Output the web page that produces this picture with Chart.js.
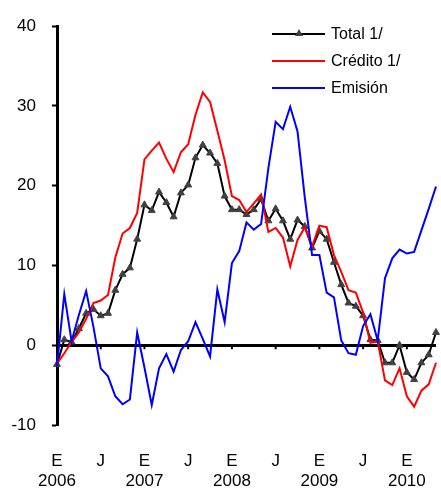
<!DOCTYPE html>
<html>
<head>
<meta charset="utf-8">
<script src="https://cdn.jsdelivr.net/npm/chart.js@4"></script>
<style>
    body { margin: 0; background: #fff; }
    #wrap { position: relative; width: 441px; height: 488px; }
    .legend { position: absolute; left: 272px; top: 22px; font: 16px "Liberation Sans", Arial, sans-serif; color: #000; }
    .legend .row { position: relative; height: 27px; line-height: 24px; padding-left: 59px; white-space: nowrap; }
    .legend .line { position: absolute; left: 0; top: 11px; width: 53px; height: 2px; }
    .legend .tri { position: absolute; left: 23px; top: 7px; width: 0; height: 0;
        border-left: 4px solid transparent; border-right: 4px solid transparent; border-bottom: 7px solid #404040; }
</style>
</head>
<body>
<div id="wrap">
    <canvas id="chart" width="441" height="488"></canvas>
    <div class="legend">
        <div class="row"><span class="line" style="background:#000"></span><span class="tri"></span>Total 1/</div>
        <div class="row"><span class="line" style="background:#ff0000"></span>Crédito 1/</div>
        <div class="row"><span class="line" style="background:#0000ff"></span>Emisión</div>
    </div>
</div>
<script>
// Months, Jan 2006 - May 2010
const months = [
    '2006-01', '2006-02', '2006-03', '2006-04', '2006-05', '2006-06', '2006-07', '2006-08', '2006-09', '2006-10', '2006-11', '2006-12',
    '2007-01', '2007-02', '2007-03', '2007-04', '2007-05', '2007-06', '2007-07', '2007-08', '2007-09', '2007-10', '2007-11', '2007-12',
    '2008-01', '2008-02', '2008-03', '2008-04', '2008-05', '2008-06', '2008-07', '2008-08', '2008-09', '2008-10', '2008-11', '2008-12',
    '2009-01', '2009-02', '2009-03', '2009-04', '2009-05', '2009-06', '2009-07', '2009-08', '2009-09', '2009-10', '2009-11', '2009-12',
    '2010-01', '2010-02', '2010-03', '2010-04', '2010-05'
];

// Series (% annual change)
const total = [
    -2.4, 0.7, 0.4, 2.1, 4.0, 4.5, 3.7, 4.0, 6.9, 8.9, 9.7, 13.3,
    17.6, 16.9, 19.2, 17.9, 16.1, 19.1, 20.1, 23.5, 25.1, 24.1, 22.8, 18.7,
    17.0, 17.0, 16.4, 17.0, 18.3, 15.6, 17.1, 15.6, 13.3, 15.7, 14.9, 12.2,
    14.3, 13.3, 10.4, 7.6, 5.3, 4.9, 3.7, 0.7, 0.6, -2.2, -2.2, 0.0,
    -3.4, -4.3, -2.2, -1.2, 1.6
];
const credito = [
    -2.3, -1.0, 0.4, 1.6, 3.3, 5.3, 5.6, 6.3, 11.0, 14.0, 14.7, 16.6,
    23.3, 24.4, 25.4, 23.4, 21.7, 24.2, 25.2, 28.9, 31.7, 30.5, 26.9, 23.2,
    18.7, 18.2, 16.7, 17.8, 18.9, 14.2, 14.7, 13.5, 9.9, 13.2, 14.8, 12.4,
    15.0, 14.8, 11.3, 9.2, 6.9, 6.6, 4.1, 0.3, 0.5, -4.4, -5.0, -2.9,
    -6.4, -7.7, -5.7, -4.9, -2.2
];
const emision = [
    -2.6, 6.4, 0.5, 3.8, 6.8, 2.3, -2.9, -3.9, -6.4, -7.4, -6.8, 1.6,
    -2.8, -7.5, -2.9, -1.1, -3.3, -0.6, 0.5, 2.9, 0.8, -1.4, 7.0, 2.9,
    10.3, 11.8, 15.4, 14.5, 15.2, 22.2, 28.0, 27.1, 29.9, 26.8, 18.5, 11.3,
    11.3, 6.6, 6.0, 0.6, -1.0, -1.2, 2.4, 3.9, 0.6, 8.4, 10.9, 12.0,
    11.5, 11.7, 14.4, 17.1, 19.9
];

// Axis labels
const monthLetters = { '01': 'E', '07': 'J' };
const yMin = -10;
const yMax = 40;
const yStep = 10;

const FONT = '"Liberation Sans", Arial, sans-serif';

function tickLabel(index) {
    const [year, month] = months[index].split('-');
    if (month === '01') return [monthLetters[month], year];
    if (month === '07') return monthLetters[month];
    return '';
}

// Small marks under the zero line at Jan / Jul
const zeroTicks = {
    id: 'zeroTicks',
    afterDatasetsDraw(chart) {
        const ctx = chart.ctx;
        const x = chart.scales.x;
        const y0 = chart.scales.y.getPixelForValue(0);
        ctx.save();
        ctx.strokeStyle = '#000';
        ctx.lineWidth = 2;
        months.forEach((m, i) => {
            if (!monthLetters[m.split('-')[1]]) return;
            const px = x.getPixelForValue(i);
            ctx.beginPath();
            ctx.moveTo(px, y0);
            ctx.lineTo(px, y0 + 4);
            ctx.stroke();
        });
        ctx.restore();
    }
};

const ctx = document.getElementById('chart').getContext('2d');
new Chart(ctx, {
    type: 'line',
    data: {
        labels: months,
        datasets: [
            {
                label: 'Emisión',
                data: emision,
                borderColor: '#0000ff',
                borderWidth: 2,
                pointRadius: 0,
                tension: 0
            },
            {
                label: 'Crédito 1/',
                data: credito,
                borderColor: '#ff0000',
                borderWidth: 2,
                pointRadius: 0,
                tension: 0
            },
            {
                label: 'Total 1/',
                data: total,
                borderColor: '#000000',
                borderWidth: 2,
                pointStyle: 'triangle',
                pointRadius: 4,
                pointBackgroundColor: '#404040',
                pointBorderColor: '#404040',
                pointBorderWidth: 1,
                tension: 0
            }
        ]
    },
    options: {
        responsive: false,
        animation: false,
        layout: {
            padding: { top: 20, right: 4, left: 0, bottom: 0 }
        },
        plugins: {
            legend: { display: false },
            tooltip: { enabled: false }
        },
        scales: {
            x: {
                offset: false,
                grid: { display: false, drawTicks: false },
                border: { display: false },
                ticks: {
                    autoSkip: false,
                    maxRotation: 0,
                    padding: 27,
                    color: '#000',
                    font: { family: FONT, size: 17, lineHeight: 1.15 },
                    callback: (value, index) => tickLabel(index)
                },
                afterFit: (scale) => {
                    // label padding should not widen the side margins
                    scale.height = 63;
                    scale.paddingLeft = 0;
                    scale.paddingRight = 0;
                }
            },
            y: {
                min: yMin,
                max: yMax,
                ticks: {
                    stepSize: yStep,
                    padding: 16,
                    color: '#000',
                    font: { family: FONT, size: 17 }
                },
                grid: {
                    drawOnChartArea: true,
                    color: (c) => c.tick && c.tick.value === 0 ? '#000' : 'rgba(0,0,0,0)',
                    lineWidth: (c) => c.tick && c.tick.value === 0 ? 3 : 1,
                    tickColor: '#000',
                    tickWidth: 2,
                    tickLength: 5
                },
                border: { display: true, color: '#000', width: 3 },
                afterFit: (scale) => { scale.width = 57; }
            }
        }
    },
    plugins: [zeroTicks]
});
</script>
</body>
</html>
